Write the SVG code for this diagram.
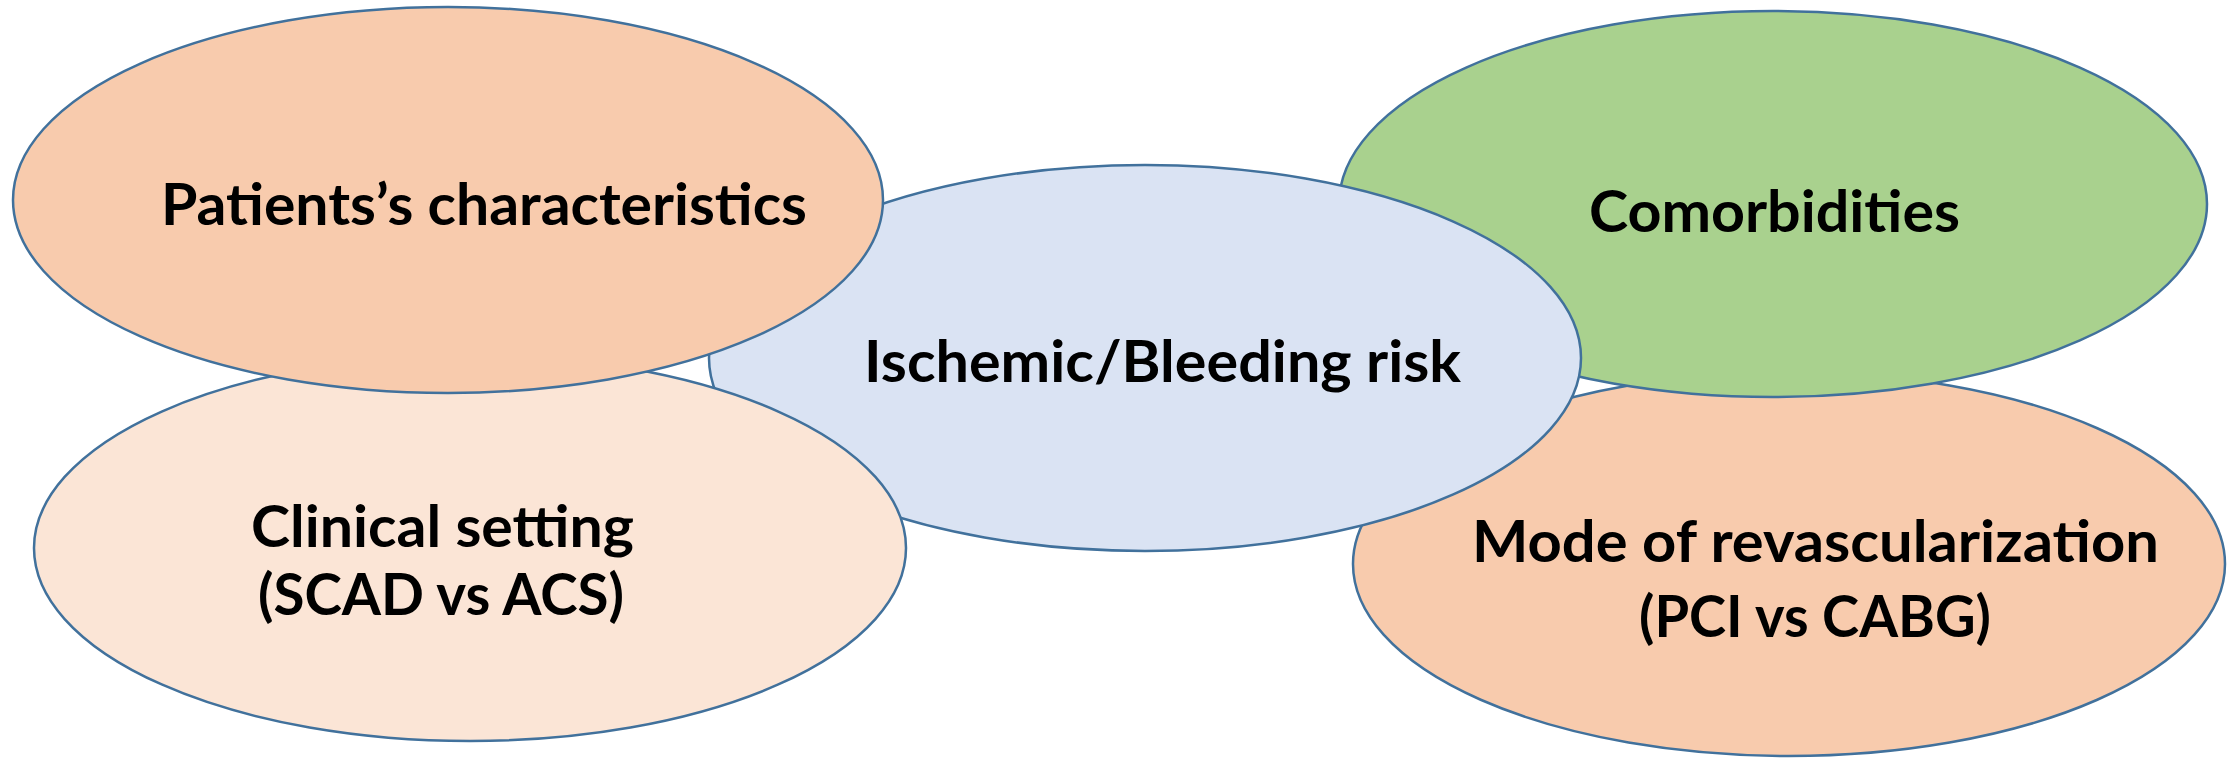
<svg xmlns="http://www.w3.org/2000/svg" width="2233" height="758" viewBox="0 0 2233 758">
<style>
.node ellipse { stroke: #41719C; stroke-width: 2.5; }
.lbl { font-family: Lato, "Open Sans", "Liberation Sans", sans-serif; font-weight: bold; font-size: 58px; fill: #000000; }
</style>
<rect x="0" y="0" width="2233" height="758" fill="#ffffff"/>
<g id="connectors"></g>
<g id="mode" class="node">
  <ellipse cx="1789" cy="564" rx="436" ry="192" fill="#F8CBAD"/>
  <text class="lbl" x="1472" y="562" textLength="687" lengthAdjust="spacingAndGlyphs">Mode of revascularization</text>
  <text class="lbl" x="1639" y="637" textLength="352" lengthAdjust="spacingAndGlyphs">(PCI vs CABG)</text>
</g>
<g id="comorbidities" class="node">
  <ellipse cx="1773" cy="204" rx="434" ry="193" fill="#A9D18E"/>
  <text class="lbl" x="1589" y="232" textLength="371" lengthAdjust="spacingAndGlyphs">Comorbidities</text>
</g>
<g id="center" class="node">
  <ellipse cx="1145" cy="358" rx="436" ry="193" fill="#DAE3F3"/>
  <text class="lbl" x="864" y="382" textLength="597" lengthAdjust="spacingAndGlyphs">Ischemic/Bleeding risk</text>
</g>
<g id="clinical" class="node">
  <ellipse cx="470" cy="548" rx="436" ry="193" fill="#FBE5D6"/>
  <text class="lbl" x="251" y="547" textLength="383" lengthAdjust="spacingAndGlyphs">Clinical setting</text>
  <text class="lbl" x="258" y="615" textLength="366" lengthAdjust="spacingAndGlyphs">(SCAD vs ACS)</text>
</g>
<g id="patients" class="node">
  <ellipse cx="448" cy="200" rx="435" ry="193" fill="#F8CBAD"/>
  <text class="lbl" x="161" y="225" textLength="646" lengthAdjust="spacingAndGlyphs">Patients’s characteristics</text>
</g>
</svg>
